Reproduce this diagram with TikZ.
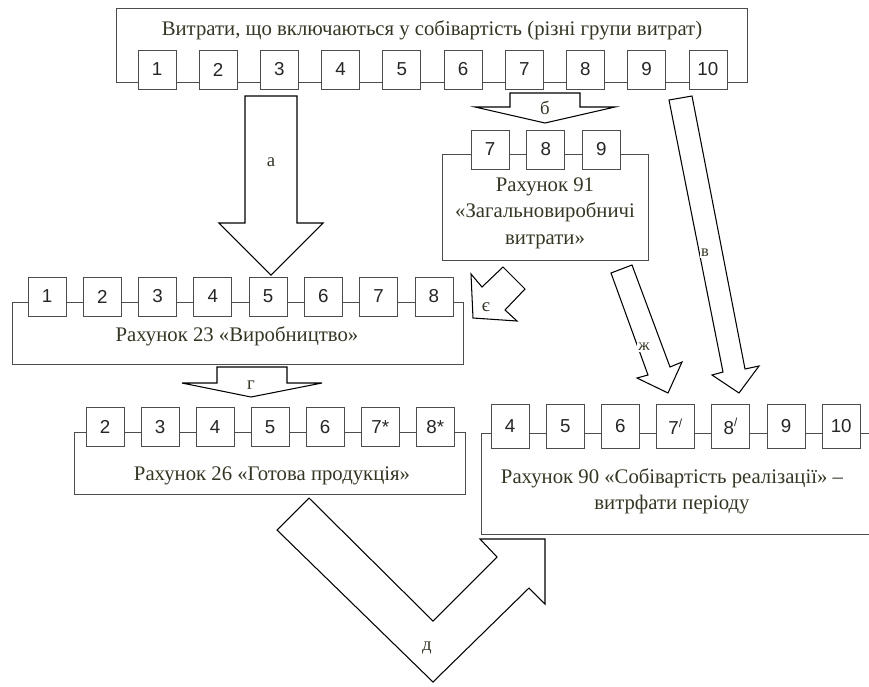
\documentclass[tikz,border=0pt]{standalone}
\usepackage{fontspec}
\setmainfont{Liberation Serif}
\newfontfamily\numfont{Liberation Sans}
\usetikzlibrary{positioning}
\definecolor{textc}{RGB}{52,54,36}

\begin{document}
\begin{tikzpicture}[x=0.03cm, y=-0.03cm]
    % --- Style Definitions ---
    \tikzset{
        num box/.style={
            draw=black!70,
            fill=white,
            line width=0.6pt,
            minimum width=1.14cm,
            minimum height=1.17cm,
            inner sep=0pt,
            font=\numfont\fontsize{16}{16}\selectfont,
            text=black!85
        },
        account box/.style={
            draw=black!70,
            line width=0.6pt,
            inner sep=0pt
        },
        caption text/.style={font=\fontsize{17.7}{22.5}\selectfont, text=textc, align=center},
        block arrow/.style={draw=black, line width=0.9pt, fill=white, line join=miter},
        arrow label/.style={font=\fontsize{16}{16}\selectfont, text=textc, inner sep=1pt}
    }

    \useasboundingbox (0,0) rectangle (869,686);

    % ==========================================
    % TOP: all cost groups
    % ==========================================
    \node[account box, minimum width=18.93cm, minimum height=2.22cm] (costs) at (431.5,45) {};
    \node[caption text] (costs_title) at (432,30) {Витрати, що включаються у собівартість (різні групи витрат)};

    \node[num box] (t1) at (157,69.5) {1};
    \node[num box, right=0.675cm of t1] (t2) {2};
    \node[num box, right=0.675cm of t2] (t3) {3};
    \node[num box, right=0.675cm of t3] (t4) {4};
    \node[num box, right=0.675cm of t4] (t5) {5};
    \node[num box, right=0.675cm of t5] (t6) {6};
    \node[num box, right=0.675cm of t6] (t7) {7};
    \node[num box, right=0.675cm of t7] (t8) {8};
    \node[num box, right=0.675cm of t8] (t9) {9};
    \node[num box, right=0.675cm of t9] (t10) {10};

    % ==========================================
    % ACCOUNT 91
    % ==========================================
    \node[account box, minimum width=6.18cm, minimum height=3.18cm] (acc91) at (545,207) {};
    \node[caption text] (acc91_title) at (545,213) {Рахунок 91\\«Загальновиробничі\\витрати»};

    \node[num box] (g7) at (490,149.5) {7};
    \node[num box, right=0.51cm of g7] (g8) {8};
    \node[num box, right=0.51cm of g8] (g9) {9};

    % ==========================================
    % ACCOUNT 23
    % ==========================================
    \node[account box, minimum width=13.53cm, minimum height=1.86cm] (acc23) at (237.5,333) {};
    \node[caption text] (acc23_title) at (237,336) {Рахунок 23 «Виробництво»};

    \node[num box] (p1) at (47,296.5) {1};
    \node[num box, right=0.497cm of p1] (p2) {2};
    \node[num box, right=0.497cm of p2] (p3) {3};
    \node[num box, right=0.497cm of p3] (p4) {4};
    \node[num box, right=0.497cm of p4] (p5) {5};
    \node[num box, right=0.497cm of p5] (p6) {6};
    \node[num box, right=0.497cm of p6] (p7) {7};
    \node[num box, right=0.497cm of p7] (p8) {8};

    % ==========================================
    % ACCOUNT 26
    % ==========================================
    \node[account box, minimum width=11.73cm, minimum height=1.86cm] (acc26) at (269.5,463) {};
    \node[caption text] (acc26_title) at (272,476) {Рахунок 26 «Готова продукція»};

    \node[num box] (f2) at (105,427) {2};
    \node[num box, right=0.49cm of f2] (f3) {3};
    \node[num box, right=0.49cm of f3] (f4) {4};
    \node[num box, right=0.49cm of f4] (f5) {5};
    \node[num box, right=0.49cm of f5] (f6) {6};
    \node[num box, right=0.49cm of f6] (f7) {7*};
    \node[num box, right=0.49cm of f7] (f8) {8*};

    % ==========================================
    % ACCOUNT 90 (runs past the right edge)
    % ==========================================
    \node[account box, minimum width=12.57cm, minimum height=3.03cm] (acc90) at (690.5,483.5) {};
    \node[caption text] (acc90_title) at (672,491) {Рахунок 90 «Собівартість реалізації» –\\витрфати періоду};

    \node[num box, minimum height=1.32cm] (s4) at (510,426.5) {4};
    \node[num box, minimum height=1.32cm, right=0.495cm of s4] (s5) {5};
    \node[num box, minimum height=1.32cm, right=0.495cm of s5] (s6) {6};
    \node[num box, minimum height=1.32cm, right=0.495cm of s6] (s7) {7\textsuperscript{\fontsize{10}{10}\selectfont /}};
    \node[num box, minimum height=1.32cm, right=0.495cm of s7] (s8) {8\textsuperscript{\fontsize{10}{10}\selectfont /}};
    \node[num box, minimum height=1.32cm, right=0.495cm of s8] (s9) {9};
    \node[num box, minimum height=1.32cm, right=0.495cm of s9] (s10) {10};

    % ==========================================
    % BLOCK ARROWS
    % ==========================================
    % a: costs -> account 23
    \draw[block arrow] (245,96) -- (297,96) -- (297,223) -- (323,223) -- (271,275)
        -- (219,223) -- (245,223) -- cycle;
    \node[arrow label] (lbl_a) at (271,162) {а};

    % b: costs -> account 91
    \draw[block arrow] (510,93) -- (580,93) -- (580,107) -- (615,107) -- (545,123)
        -- (475,107) -- (510,107) -- cycle;
    \node[arrow label] (lbl_b) at (545,108) {б};

    % v: costs -> account 90
    \draw[block arrow] (669,100) -- (692,96) -- (745,369) -- (759,366) -- (739,393)
        -- (712,375) -- (723,372) -- cycle;
    \node[arrow label, fill=white, font=\fontsize{14}{14}\selectfont] (lbl_v) at (705,253) {в};

    % ye: account 91 -> account 23
    \draw[block arrow] (471,274) -- (482,287) -- (503,267) -- (525,289) -- (505,310)
        -- (517,321) -- (473,318) -- cycle;
    \node[arrow label] (lbl_ye) at (486,307) {є};

    % zh: account 91 -> account 90
    \draw[block arrow] (611,273) -- (632,265) -- (670,367) -- (682,362) -- (668,393)
        -- (637,378) -- (648,375) -- cycle;
    \node[arrow label, fill=white, font=\fontsize{14}{14}\selectfont] (lbl_zh) at (644,347) {ж};

    % g: account 23 -> account 26
    \draw[block arrow] (217,367) -- (287,367) -- (287,383) -- (322,383) -- (251,397)
        -- (182,383) -- (217,383) -- cycle;
    \node[arrow label] (lbl_g) at (251,385) {г};

    % d: account 26 -> account 90
    \draw[block arrow] (309,498) -- (433,621) -- (497,557) -- (480,539) -- (545,539)
        -- (545,604) -- (529,588) -- (433,682) -- (277,530) -- cycle;
    \node[arrow label] (lbl_d) at (427,648) {д};

\end{tikzpicture}
\end{document}
